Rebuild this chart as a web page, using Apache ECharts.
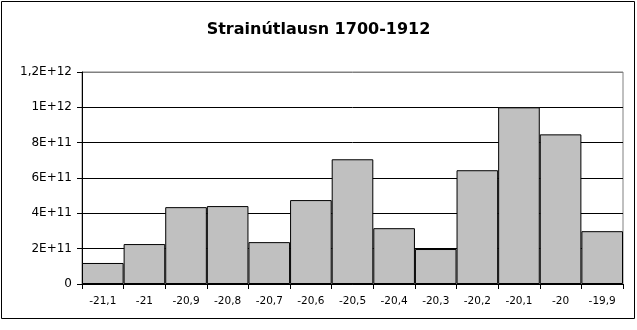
<!DOCTYPE html>
<html><head><meta charset="utf-8">
<script src="https://cdn.jsdelivr.net/npm/echarts@6/dist/echarts.min.js"></script>
<style>html,body{margin:0;padding:0;background:#fff}#c{width:637px;height:330px}</style>
</head><body><div id="c"></div>
<script>
var titleText = 'Strainútlausn 1700-1912';
var categories = ['-21,1','-21','-20,9','-20,8','-20,7','-20,6','-20,5','-20,4','-20,3','-20,2','-20,1','-20','-19,9'];
var values = [1.19e11, 2.26e11, 4.35e11, 4.41e11, 2.37e11, 4.75e11, 7.06e11, 3.16e11, 1.98e11, 6.44e11, 1.0e12, 8.47e11, 2.99e11];
var yTickLabels = ['0','2E+11','4E+11','6E+11','8E+11','1E+12','1,2E+12'];
var yStep = 2e11;

var chart = echarts.init(document.getElementById('c'), null, {renderer:'canvas'});
chart.setOption({
  animation:false,
  backgroundColor:'#fff',
  textStyle:{fontFamily:'DejaVu Sans, sans-serif'},
  title:{text:titleText,left:'center',top:17,textStyle:{fontSize:16,fontWeight:'bold',color:'#000',fontFamily:'DejaVu Sans, sans-serif'}},
  graphic:[{type:'rect',shape:{x:1.5,y:1.5,width:633,height:317},style:{fill:'none',stroke:'#000',lineWidth:1},silent:true}],
  grid:{left:82,right:14,top:72,bottom:46,show:true,borderColor:'#808080',borderWidth:1},
  xAxis:{type:'category',data:categories,
    axisLine:{lineStyle:{color:'#000'}},
    axisTick:{show:true,alignWithLabel:false,length:5,lineStyle:{color:'#000'},inside:false},
    axisLabel:{color:'#000',fontSize:10.5,margin:12,interval:0,fontFamily:'DejaVu Sans, sans-serif'}},
  yAxis:{type:'value',min:0,max:1.2e12,interval:yStep,
    axisLine:{show:true,lineStyle:{color:'#000'}},
    axisTick:{show:true,length:5,lineStyle:{color:'#000'}},
    axisLabel:{color:'#000',fontSize:12,margin:10,fontFamily:'DejaVu Sans, sans-serif',formatter:function(v){return yTickLabels[Math.round(v/yStep)];}},
    splitLine:{show:true,lineStyle:{color:['#000','#000','#000','#000','#000','#000','#808080'],width:1}}},
  series:[{type:'bar',data:values,barCategoryGap:'0%',
    itemStyle:{color:'#c0c0c0',borderColor:'#000',borderWidth:1}}]
});
</script></body></html>
